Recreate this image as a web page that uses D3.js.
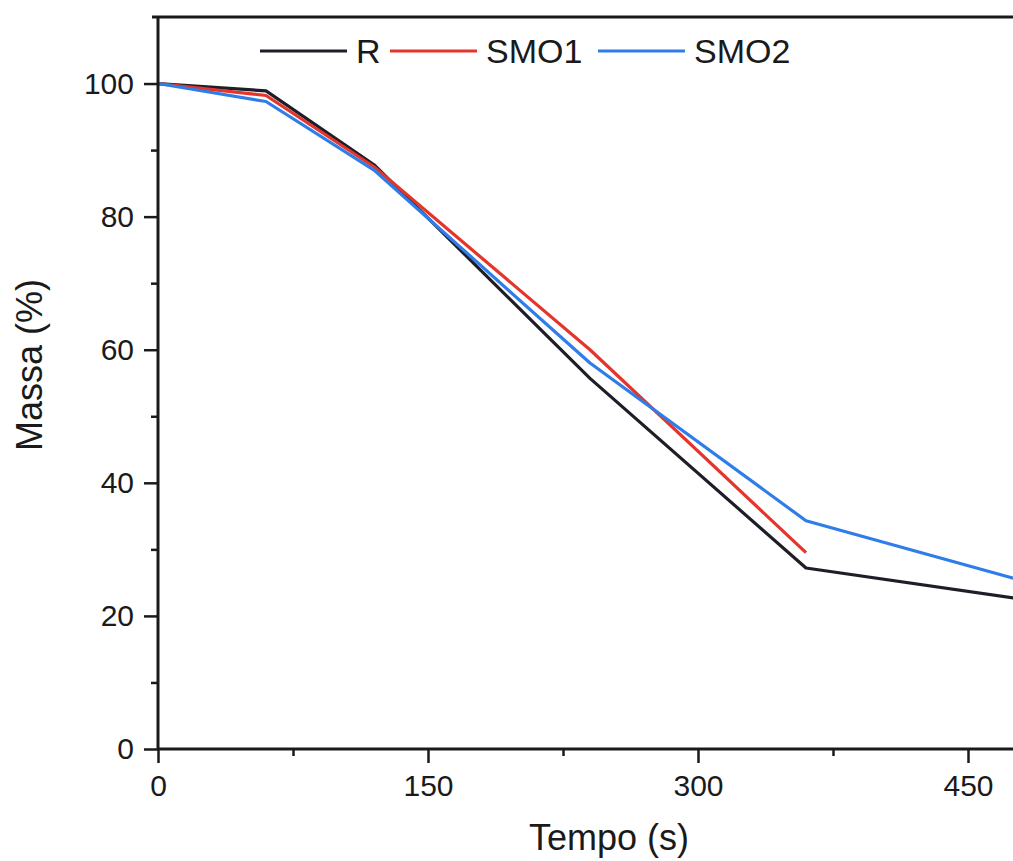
<!DOCTYPE html>
<html>
<head>
<meta charset="utf-8">
<script src="https://cdn.jsdelivr.net/npm/d3@7.9.0/dist/d3.min.js"></script>
<style>
  body { margin: 0; background: #fff; }
  svg { display: block; font-family: "Liberation Sans", Arial, sans-serif; }
</style>
</head>
<body>
<svg id="chart" width="1013" height="861"></svg>
<script>
// time (s) and remaining mass (%) per sample
const timeR = [0, 60, 120, 240, 360, 480];
const massR = [100, 98.9, 87.8, 55.7, 27.2, 22.5];

const timeSMO1 = [0, 60, 120, 240, 360];
const massSMO1 = [100, 98.2, 87.5, 60.0, 29.5];

const timeSMO2 = [0, 60, 120, 240, 360, 480];
const massSMO2 = [100, 97.3, 87.0, 58.0, 34.3, 25.3];

const seriesNames = ['R', 'SMO1', 'SMO2'];
const seriesColors = ['#1e1e28', '#e5352b', '#2e7de9'];

const xTicks = [0, 150, 300, 450];
const xMinor = [75, 225, 375];
const yTicks = [0, 20, 40, 60, 80, 100];
const yMinor = [10, 30, 50, 70, 90];

const svg = d3.select('#chart');

const x = d3.scaleLinear().domain([0, 475]).range([158, 1013]);
const y = d3.scaleLinear().domain([0, 110]).range([749, 17]);

const series = [
  { name: seriesNames[0], color: seriesColors[0], pts: timeR.map((t, i) => [t, massR[i]]) },
  { name: seriesNames[1], color: seriesColors[1], pts: timeSMO1.map((t, i) => [t, massSMO1[i]]) },
  { name: seriesNames[2], color: seriesColors[2], pts: timeSMO2.map((t, i) => [t, massSMO2[i]]) },
];

const line = d3.line().x(d => x(d[0])).y(d => y(d[1]));

svg.append('g')
  .selectAll('path')
  .data(series)
  .join('path')
  .attr('d', d => line(d.pts))
  .attr('fill', 'none')
  .attr('stroke', d => d.color)
  .attr('stroke-width', 3.2)
  .attr('stroke-linejoin', 'round');

// top frame line
svg.append('line')
  .attr('x1', 152).attr('x2', 1013)
  .attr('y1', y(110)).attr('y2', y(110))
  .attr('stroke', '#1a1a1a').attr('stroke-width', 3);

// axes: major ticks via d3.axis, minor ticks as a second axis without labels
const xAxis = svg.append('g')
  .attr('transform', `translate(0,${y(0)})`)
  .call(d3.axisBottom(x).tickValues(xTicks).tickSize(14).tickPadding(12).tickFormat(d3.format('d')));
svg.append('g')
  .attr('transform', `translate(0,${y(0)})`)
  .call(d3.axisBottom(x).tickValues(xMinor).tickSize(7).tickFormat(''))
  .call(g => g.select('.domain').remove());

const yAxis = svg.append('g')
  .attr('transform', `translate(${x(0)},0)`)
  .call(d3.axisLeft(y).tickValues(yTicks).tickSize(14).tickPadding(10).tickFormat(d3.format('d')));
svg.append('g')
  .attr('transform', `translate(${x(0)},0)`)
  .call(d3.axisLeft(y).tickValues(yMinor).tickSize(7).tickFormat(''))
  .call(g => g.select('.domain').remove());

svg.selectAll('.domain').attr('stroke', '#1a1a1a').attr('stroke-width', 3);
svg.selectAll('.tick line').attr('stroke', '#1a1a1a').attr('stroke-width', 2.5);
svg.selectAll('.tick text')
  .attr('fill', '#1a1a1a')
  .attr('font-size', 30)
  .attr('font-family', '"Liberation Sans", Arial, sans-serif');
xAxis.select('.domain').attr('d', `M${x(0)},0H1013`);
yAxis.select('.domain').attr('d', `M0,${y(110)}V${y(0)}`);

// axis titles
svg.append('text')
  .attr('x', 609).attr('y', 850)
  .attr('text-anchor', 'middle')
  .attr('font-size', 36)
  .attr('fill', '#1a1a1a')
  .text('Tempo (s)');

svg.append('text')
  .attr('transform', 'translate(42,365) rotate(-90)')
  .attr('text-anchor', 'middle')
  .attr('font-size', 36)
  .attr('fill', '#1a1a1a')
  .text('Massa (%)');

// legend
const legendStarts = [260, 390, 598];
const legend = svg.append('g')
  .selectAll('g')
  .data(series)
  .join('g')
  .attr('transform', (d, i) => `translate(${legendStarts[i]},51)`);
legend.append('line')
  .attr('x1', 0).attr('x2', 87)
  .attr('stroke', d => d.color)
  .attr('stroke-width', 3.2);
legend.append('text')
  .attr('x', 96).attr('y', 12)
  .attr('font-size', 34)
  .attr('fill', '#1a1a1a')
  .text(d => d.name);
</script>
</body>
</html>
